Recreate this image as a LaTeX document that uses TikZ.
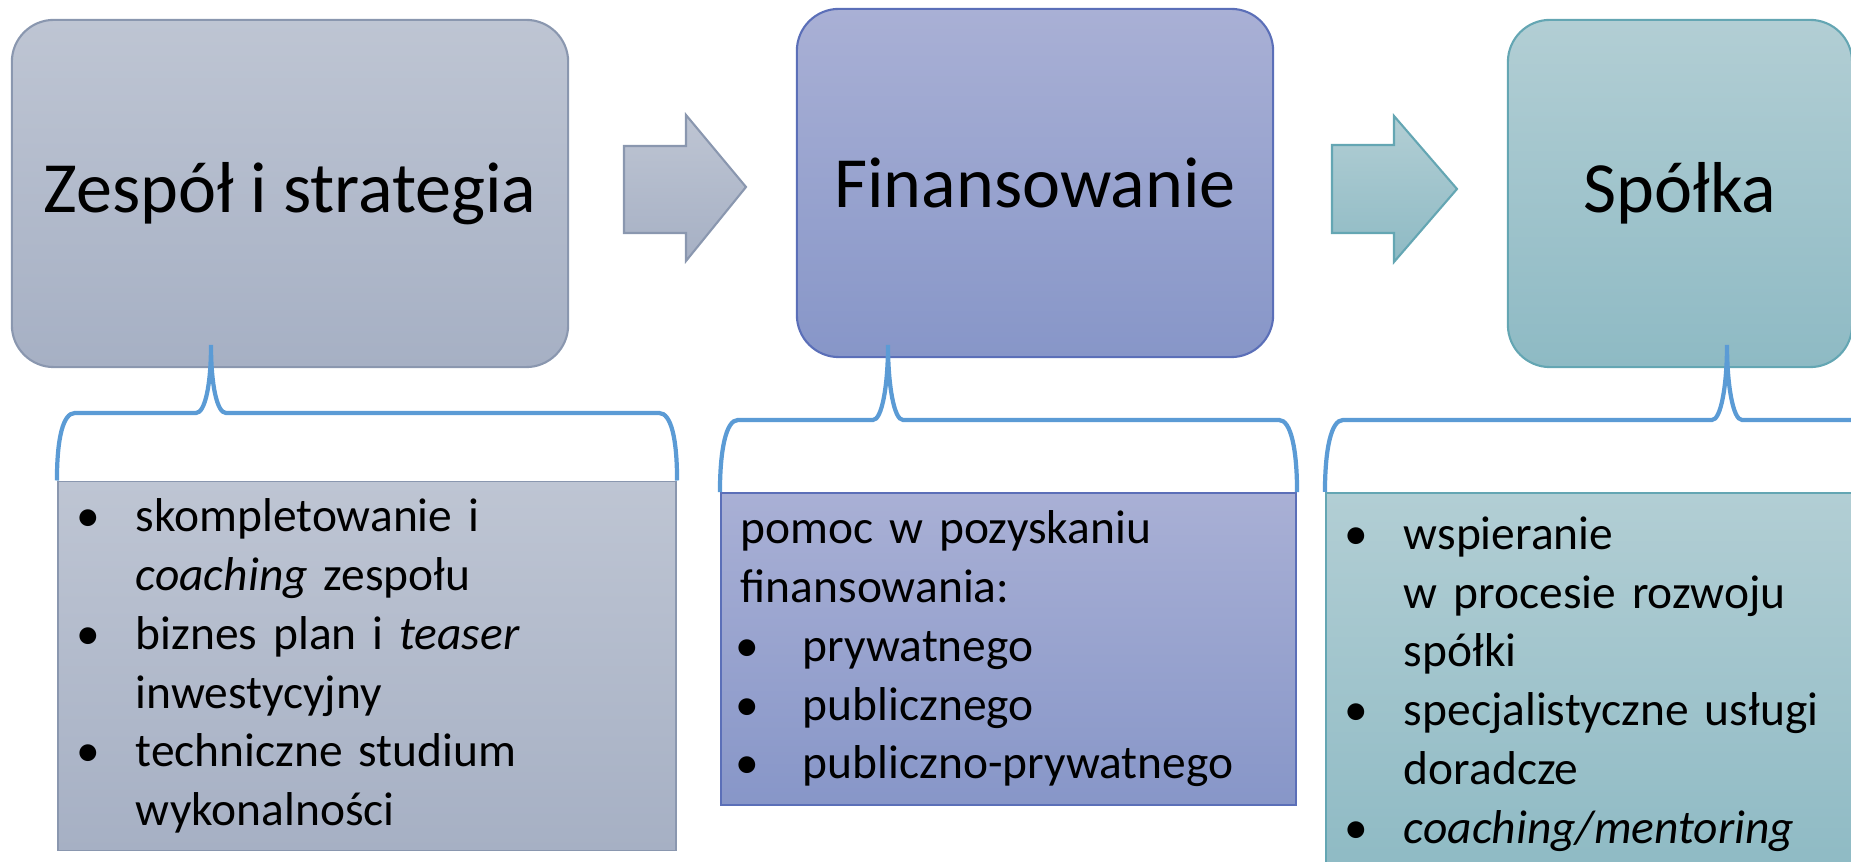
\documentclass[tikz,border=0pt]{standalone}
\usepackage{fontspec}
\setmainfont{Carlito}
\usepackage{tikz}
\usetikzlibrary{calc}

\definecolor{grayTop}{HTML}{BEC5D3}
\definecolor{grayBot}{HTML}{A6B0C4}
\definecolor{grayLine}{HTML}{8A97AF}
\definecolor{blueTop}{HTML}{A9B0D5}
\definecolor{blueBot}{HTML}{8796C8}
\definecolor{blueLine}{HTML}{5B6FB8}
\definecolor{tealTop}{HTML}{B2CED4}
\definecolor{tealBot}{HTML}{8EBAC4}
\definecolor{tealLine}{HTML}{64A6B3}
\definecolor{braceBlue}{HTML}{5B9BD5}

\newcommand{\bul}[1][0.54cm]{\makebox[#1][l]{\hspace*{-0.05cm}\textbullet}}
\newcommand{\indt}[1][0.54cm]{\hspace*{#1}}

\tikzset{
    titlebox/.style={draw, line width=0.6pt, rounded corners=0.42cm, inner sep=0pt,
        font=\fontsize{20.5}{24}\selectfont},
    infobox/.style={draw, line width=0.5pt, align=left, inner ysep=0pt,
        font=\fontsize{13.5}{16.7}\selectfont},
    blockarrow/.style={line width=0.6pt},
    bracelink/.style={draw=braceBlue, line width=1.2pt}
}

\begin{document}
\begin{tikzpicture}[x=0.01cm, y=-0.01cm]
    \useasboundingbox (0,0) rectangle (1851,862);
    \clip (0,0) rectangle (1851,862);

    % Stages
    \node[titlebox, draw=grayLine, top color=grayTop, bottom color=grayBot,
          minimum width=5.56cm, minimum height=3.47cm] (zespol) at (290,193.5) {Zespół i strategia};
    \node[titlebox, draw=blueLine, top color=blueTop, bottom color=blueBot,
          minimum width=4.76cm, minimum height=3.48cm] (finanse) at (1035,183) {Finansowanie};
    \node[titlebox, draw=tealLine, top color=tealTop, bottom color=tealBot,
          minimum width=3.44cm, minimum height=3.47cm] (spolka) at (1680,193.5) {Spółka};

    % Arrows between stages
    \draw[blockarrow, draw=grayLine, top color=grayTop, bottom color=grayBot]
        (624,146) -- (686,146) -- (686,115) -- (746,187) -- (686,261) -- (686,233) -- (624,233) -- cycle;
    \draw[blockarrow, draw=tealLine, top color=tealTop, bottom color=tealBot]
        (1332,145) -- (1394,145) -- (1394,116) -- (1457,189) -- (1394,262) -- (1394,233) -- (1332,233) -- cycle;

    % Details
    \node[infobox, draw=grayLine, top color=grayTop, bottom color=grayBot,
          inner xsep=0.24cm, text width=5.70cm, minimum height=3.69cm] (zespolInfo) at (367,666)
        {\bul skompletowanie i\\
         \indt\textit{coaching} zespołu\\
         \bul biznes plan i \textit{teaser}\\
         \indt inwestycyjny\\
         \bul techniczne studium\\
         \indt wykonalności};
    \node[infobox, draw=blueLine, top color=blueTop, bottom color=blueBot,
          inner xsep=0.2cm, text width=5.35cm, minimum height=3.12cm] (finanseInfo) at (1008.5,649)
        {pomoc w pozyskaniu\\
         finansowania:\\
         \bul[0.62cm]prywatnego\\
         \bul[0.62cm]publicznego\\
         \bul[0.62cm]publiczno-prywatnego};
    \node[infobox, draw=tealLine, top color=tealTop, bottom color=tealBot,
          inner xsep=0.24cm, text width=5.06cm, minimum height=3.82cm] (spolkaInfo) at (1603,684)
        {\bul wspieranie\\
         \indt w procesie rozwoju\\
         \indt spółki\\
         \bul specjalistyczne usługi\\
         \indt doradcze\\
         \bul\textit{coaching/mentoring}};

    % Braces
    \coordinate (t1) at (211,345);  \coordinate (h1) at (211,413);
    \coordinate (t2) at (888,345);  \coordinate (h2) at (888,420);
    \coordinate (t3) at (1727,345); \coordinate (h3) at (1727,420);
    \foreach \info/\k in {zespolInfo/1, finanseInfo/2, spolkaInfo/3} {
        \draw[bracelink] (\info.north west)
            to[out=90, in=180, out distance=0.42cm, in distance=0.12cm] ($(\info.north west |- h\k)+(18,0)$)
            -- ($(h\k)+(-15,0)$)
            to[out=0, in=-90, out distance=0.09cm, in distance=0.4cm] (t\k)
            to[out=-90, in=180, out distance=0.4cm, in distance=0.09cm] ($(h\k)+(15,0)$)
            -- ($(\info.north east |- h\k)+(-18,0)$)
            to[out=0, in=90, out distance=0.12cm, in distance=0.42cm] (\info.north east);
    }
\end{tikzpicture}
\end{document}
